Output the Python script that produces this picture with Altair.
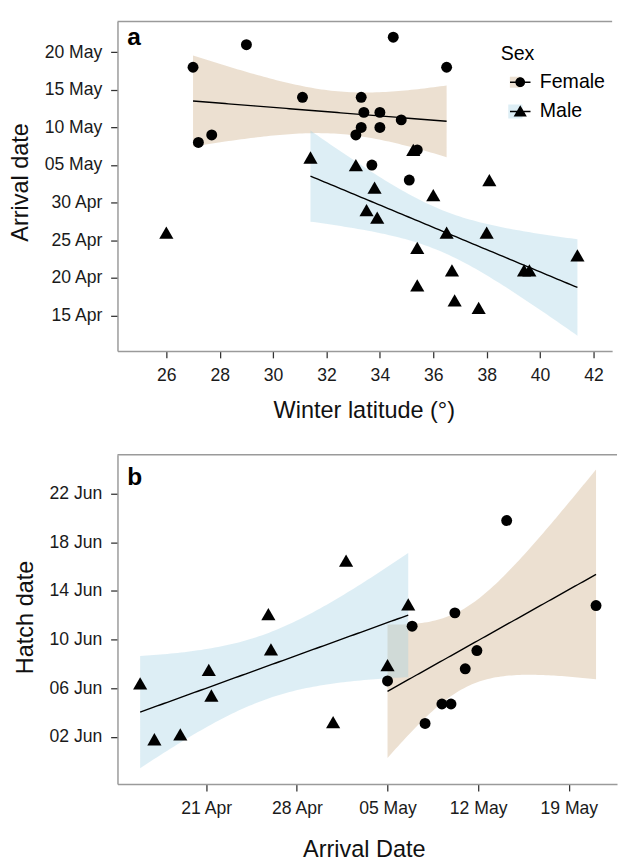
import json
import numpy as np
import pandas as pd
import altair as alt

FONT = "Liberation Sans"

# ---------------- data ----------------
# Panel a: winter latitude (deg N) vs arrival date (days after 30 April)
fa_lat = [27.0, 29.0, 34.5, 27.2, 27.7, 31.1, 33.3, 33.4, 34.0, 34.8, 33.3, 34.0, 33.1, 33.7, 35.1, 35.4, 36.5]
fa_arr = [18, 21, 22, 8, 9, 14, 14, 12, 12, 11, 10, 10, 9, 5, 3, 7, 18]
ma_lat = [31.4, 33.1, 33.8, 33.5, 33.9, 35.25, 35.4, 35.4, 36.0, 38.1, 36.5, 38.0, 36.7, 36.8, 37.7, 39.4, 39.6, 41.4]
ma_arr = [6, 5, 2, -1, -2, 7, -6, -11, 1, 3, -4, -4, -9, -13, -14, -9, -9, -7]
# male plotted but not part of the fitted regression
ma_extra_lat = [26.0]
ma_extra_arr = [-4]

# Panel b: arrival date (days after 30 April) vs hatch date (days after 31 May)
fb_arr = [5.0, 6.9, 10.2, 11.9, 11.0, 9.2, 9.9, 7.9, 14.2, 21.1]
fb_hat = [6.6, 11.1, 12.2, 9.1, 7.6, 4.7, 4.7, 3.1, 19.8, 12.8]
mb_arr = [-14.1, -13.0, -11.0, -8.8, -8.6, -4.2, -4.0, 1.8, 0.8, 5.0, 6.6]
mb_hat = [6.4, 1.8, 2.2, 7.5, 5.4, 12.1, 9.2, 16.5, 3.2, 7.9, 12.9]

SEXES = ["Female", "Male"]
BAND_COLORS = ["#C9A67C", "#9ECEE2"]

# tick values / labels
xa_ticks = [26, 28, 30, 32, 34, 36, 38, 40, 42]
ya_ticks = [-15, -10, -5, 0, 5, 10, 15, 20]
ya_labels = ["15 Apr", "20 Apr", "25 Apr", "30 Apr", "05 May", "10 May", "15 May", "20 May"]
xb_ticks = [-9, -2, 5, 12, 19]
xb_labels = ["21 Apr", "28 Apr", "05 May", "12 May", "19 May"]
yb_ticks = [2, 6, 10, 14, 18, 22]
yb_labels = ["02 Jun", "06 Jun", "10 Jun", "14 Jun", "18 Jun", "22 Jun"]

# Student t 0.975 quantiles by residual degrees of freedom
T95 = {8: 2.306, 9: 2.262, 15: 2.131, 16: 2.120}


def lm_band(x, y, sex, n_grid=80):
    x = np.asarray(x, float)
    y = np.asarray(y, float)
    n = len(x)
    b1, b0 = np.polyfit(x, y, 1)
    res = y - (b0 + b1 * x)
    s = np.sqrt((res ** 2).sum() / (n - 2))
    sxx = ((x - x.mean()) ** 2).sum()
    g = np.linspace(x.min(), x.max(), n_grid)
    fit = b0 + b1 * g
    hw = T95[n - 2] * s * np.sqrt(1.0 / n + (g - x.mean()) ** 2 / sxx)
    return pd.DataFrame({"x": g, "fit": fit, "lo": fit - hw, "hi": fit + hw, "Sex": sex})


def label_expr(ticks, labels):
    return f"{json.dumps(labels)}[indexof({json.dumps(ticks)}, datum.value)]"


# legend keys: background square, and a short line with the point symbol on it
CORNERS = "M-1,-1Z M1,1Z "
P_BOX = "M-1,-1H1V1H-1Z"
P_F = CORNERS + "M-0.7,-0.05H0.7V0.05H-0.7Z M0.33,0A0.33,0.33 0 1,1 -0.33,0A0.33,0.33 0 1,1 0.33,0Z"
P_M = CORNERS + "M-0.7,-0.05H0.7V0.05H-0.7Z M0,-0.42L0.45,0.34L-0.45,0.34Z"

pts_a = pd.DataFrame({
    "x": fa_lat + ma_lat + ma_extra_lat,
    "y": fa_arr + ma_arr + ma_extra_arr,
    "Sex": ["Female"] * len(fa_lat) + ["Male"] * (len(ma_lat) + len(ma_extra_lat)),
})
band_a = pd.concat([lm_band(fa_lat, fa_arr, "Female"), lm_band(ma_lat, ma_arr, "Male")])

pts_b = pd.DataFrame({
    "x": fb_arr + mb_arr,
    "y": fb_hat + mb_hat,
    "Sex": ["Female"] * len(fb_arr) + ["Male"] * len(mb_arr),
})
band_b = pd.concat([lm_band(fb_arr, fb_hat, "Female"), lm_band(mb_arr, mb_hat, "Male")])

LEG_X, LEG_Y = 392, 23
leg_common = dict(
    orient="none", legendX=LEG_X, legendY=LEG_Y, padding=0,
    symbolSize=900, symbolStrokeWidth=0, rowPadding=0, clipHeight=30, symbolOffset=5,
    titleFontSize=20, labelFontSize=20, titleFontWeight="normal",
    titleColor="black", labelColor="black", titlePadding=4, labelOffset=15,
    titleFont=FONT, labelFont=FONT,
)


def panel(pts, band, W, H, xdom, ydom, xaxis, yaxis, letter, legend):
    xs = alt.Scale(domain=xdom, nice=False, zero=False)
    ys = alt.Scale(domain=ydom, nice=False, zero=False)
    fill_scale = alt.Scale(domain=SEXES, range=BAND_COLORS)
    shape_scale = alt.Scale(domain=SEXES, range=["circle", "triangle-up"])
    key_scale = alt.Scale(domain=SEXES, range=[P_F, P_M])

    X = lambda f: alt.X(f, type="quantitative", scale=xs, axis=xaxis)
    Y = lambda f: alt.Y(f, type="quantitative", scale=ys, axis=yaxis)

    area = alt.Chart(band).mark_area(opacity=0.35).encode(
        x=X("x"), y=Y("lo"), y2="hi:Q",
        fill=alt.Fill("Sex:N", scale=fill_scale,
                      legend=alt.Legend(title="Sex", symbolType=P_BOX, zindex=0, **leg_common) if legend else None),
    )
    line = alt.Chart(band).mark_line(color="black", strokeWidth=1.4).encode(
        x=X("x"), y=Y("fit"), detail="Sex:N",
    )
    points = alt.Chart(pts).mark_point(filled=True, color="black", opacity=1).encode(
        x=X("x"), y=Y("y"),
        shape=alt.Shape("Sex:N", scale=shape_scale, legend=None),
        size=alt.Size("Sex:N", scale=alt.Scale(domain=SEXES, range=[125, 210]), legend=None),
    )
    layers = [area, line, points]
    if legend:
        # invisible layer that only supplies the line+symbol legend keys
        keys = alt.Chart(pts).mark_point(filled=True, color="black", opacity=0).encode(
            x=X("x"), y=Y("y"),
            shape=alt.Shape("Sex:N", scale=key_scale,
                            legend=alt.Legend(title=" ", labelExpr="''", symbolFillColor="black",
                                              symbolOpacity=1, zindex=1, **leg_common)),
        )
        layers.append(keys)
    lab = pd.DataFrame({"t": [letter]})
    letter_mark = alt.Chart(lab).mark_text(
        font=FONT, fontSize=25, fontWeight="bold", align="left", baseline="alphabetic", color="black"
    ).encode(text="t:N", x=alt.value(10), y=alt.value(24 if letter == "a" else 31))
    top = alt.Chart(lab).mark_rule(color="#9a9a9a", strokeWidth=1.5).encode(
        x=alt.value(0), x2=alt.value(W), y=alt.value(0)
    )
    layers += [letter_mark, top]
    return alt.layer(*layers).resolve_scale(shape="independent").properties(width=W, height=H)


def mk_axis(title, ticks, tx, ty, expr=None, fmt=None):
    kw = dict(title=title, values=ticks, grid=False, titleX=tx, titleY=ty, titleBaseline="alphabetic")
    if expr is not None:
        kw["labelExpr"] = expr
    if fmt is not None:
        kw["format"] = fmt
    return alt.Axis(**kw)


pa = panel(
    pts_a, band_a, 506, 337, [24.17, 42.70], [-19.73, 24.07],
    mk_axis("Winter latitude (°)", xa_ticks, 252, 68, fmt="d"),
    mk_axis("Arrival date", ya_ticks, -92, 164, expr=label_expr(ya_ticks, ya_labels)),
    "a", True,
)
pb = panel(
    pts_b, band_b, 511, 337, [-15.85, 22.72], [-1.89, 25.22],
    mk_axis("Arrival Date", xb_ticks, 252, 74, expr=label_expr(xb_ticks, xb_labels)),
    mk_axis("Hatch date", yb_ticks, -87, 166, expr=label_expr(yb_ticks, yb_labels)),
    "b", False,
)

chart = alt.concat(pa, pb, columns=1, spacing=32, align="none").resolve_scale(
    fill="independent", shape="independent", size="independent"
).resolve_legend(fill="independent", shape="independent", size="independent").properties(
    padding={"left": 1, "top": 3, "right": 0, "bottom": 0}
).configure_view(stroke=None).configure_axis(
    domainColor="#9a9a9a", domainWidth=1.5, tickColor="#333333", tickWidth=1.3, tickSize=7,
    labelFont=FONT, labelFontSize=18, labelColor="#1a1a1a", labelPadding=9,
    titleFont=FONT, titleFontSize=24, titleFontWeight="normal", titleColor="#111111",
)

chart.save("out.html", embed_options={"renderer": "svg", "actions": False})
